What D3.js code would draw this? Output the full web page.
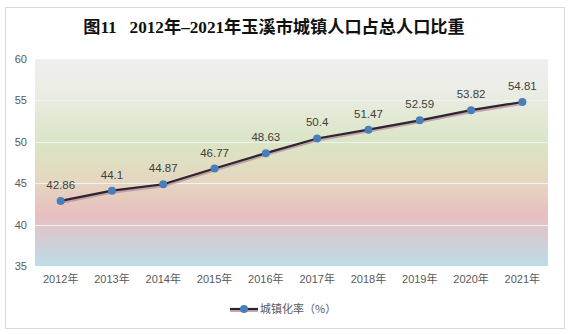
<!DOCTYPE html>
<html>
<head>
<meta charset="utf-8">
<script src="https://cdn.jsdelivr.net/npm/d3@7"></script>
<style>
  body { margin: 0; background: #fff; }
  svg { display: block; }
</style>
</head>
<body>
<svg id="chart" width="570" height="334"></svg>
<script>
// Urbanisation rate of Yuxi, 2012–2021
const years = ["2012年", "2013年", "2014年", "2015年", "2016年", "2017年", "2018年", "2019年", "2020年", "2021年"];
const rates = [42.86, 44.1, 44.87, 46.77, 48.63, 50.4, 51.47, 52.59, 53.82, 54.81];
const yTicks = [35, 40, 45, 50, 55, 60];
const titleText = "图11   2012年–2021年玉溪市城镇人口占总人口比重";
const seriesName = "城镇化率（%）";

const svg = d3.select("#chart");
const plot = { left: 35, right: 548, top: 59, bottom: 266 };

// outer frame
svg.append("rect")
  .attr("x", 5.5).attr("y", 7.5).attr("width", 559).attr("height", 321)
  .attr("fill", "#fff").attr("stroke", "#d9d9d9").attr("stroke-width", 1);

// title
svg.append("text")
  .attr("x", 274).attr("y", 33)
  .attr("text-anchor", "middle")
  .attr("font-family", "'Liberation Serif', 'Noto Sans CJK SC', serif")
  .attr("font-weight", "bold")
  .attr("font-size", 17.2)
  .attr("fill", "#111")
  .attr("xml:space", "preserve")
  .text(titleText);

// background gradient of the plot area
const defs = svg.append("defs");
const grad = defs.append("linearGradient")
  .attr("id", "bg").attr("x1", 0).attr("y1", 0).attr("x2", 0).attr("y2", 1);
[
  [0, "#efefef"],
  [0.14, "#ecede6"],
  [0.4, "#dae5c6"],
  [0.58, "#e4d8bf"],
  [0.75, "#e8bfbf"],
  [0.86, "#d5cbd2"],
  [1, "#bcdde7"]
].forEach(([o, c]) => grad.append("stop").attr("offset", o).attr("stop-color", c));

const x = d3.scaleBand().domain(years).range([plot.left, plot.right]);
const y = d3.scaleLinear().domain([35, 60]).range([plot.bottom, plot.top]);

svg.append("rect")
  .attr("x", plot.left).attr("y", plot.top)
  .attr("width", plot.right - plot.left).attr("height", plot.bottom - plot.top)
  .attr("fill", "url(#bg)");

// gridlines
svg.append("g")
  .selectAll("line")
  .data(yTicks.slice(1))
  .join("line")
  .attr("x1", plot.left).attr("x2", plot.right)
  .attr("y1", d => Math.round(y(d)) + 0.5).attr("y2", d => Math.round(y(d)) + 0.5)
  .attr("stroke", "#f2f2f2").attr("stroke-width", 1);

// y axis labels
const yAxis = d3.axisLeft(y).tickValues(yTicks).tickSize(0).tickPadding(8);
const gy = svg.append("g").attr("transform", `translate(${plot.left},0)`).call(yAxis);
gy.select(".domain").remove();
gy.selectAll("text")
  .attr("font-family", "'Liberation Sans', Arial, sans-serif")
  .attr("font-size", 11).attr("fill", "#595959");

// x axis labels
const xAxis = d3.axisBottom(x).tickSize(0).tickPadding(9);
const gx = svg.append("g").attr("transform", `translate(0,${plot.bottom})`).call(xAxis);
gx.select(".domain").remove();
gx.selectAll("text")
  .attr("font-family", "'Liberation Sans', 'Noto Sans CJK SC', sans-serif")
  .attr("font-size", 11).attr("fill", "#595959");

const cx = d => x(d) + x.bandwidth() / 2;
const line = d3.line().x((d, i) => cx(years[i])).y(d => y(d));

// soft shadow under the line
svg.append("path")
  .datum(rates)
  .attr("d", line)
  .attr("transform", "translate(0,1.5)")
  .attr("fill", "none")
  .attr("stroke", "#b08a9a").attr("stroke-width", 3).attr("opacity", 0.7);

svg.append("path")
  .datum(rates)
  .attr("d", line)
  .attr("fill", "none")
  .attr("stroke", "#2e2430").attr("stroke-width", 2.2);

svg.append("g")
  .selectAll("circle")
  .data(rates)
  .join("circle")
  .attr("cx", (d, i) => cx(years[i]))
  .attr("cy", d => y(d))
  .attr("r", 4)
  .attr("fill", "#4a7ebb");

// value labels
svg.append("g")
  .selectAll("text")
  .data(rates)
  .join("text")
  .attr("x", (d, i) => cx(years[i]))
  .attr("y", d => y(d) - 12)
  .attr("text-anchor", "middle")
  .attr("font-family", "'Liberation Sans', Arial, sans-serif")
  .attr("font-size", 11.5).attr("fill", "#404040")
  .text(d => d);

// legend
const lg = svg.append("g").attr("transform", "translate(230,309)");
lg.append("line").attr("x1", 0).attr("x2", 28).attr("y1", 1.5).attr("y2", 1.5)
  .attr("stroke", "#b08a9a").attr("stroke-width", 3).attr("opacity", 0.7);
lg.append("line").attr("x1", 0).attr("x2", 28).attr("y1", 0).attr("y2", 0)
  .attr("stroke", "#2e2430").attr("stroke-width", 2.2);
lg.append("circle").attr("cx", 14).attr("cy", 0).attr("r", 4).attr("fill", "#4a7ebb");
lg.append("text").attr("x", 30).attr("y", 4)
  .attr("font-family", "'Noto Sans CJK SC', sans-serif")
  .attr("font-size", 11).attr("fill", "#595959")
  .text(seriesName);
</script>
</body>
</html>
